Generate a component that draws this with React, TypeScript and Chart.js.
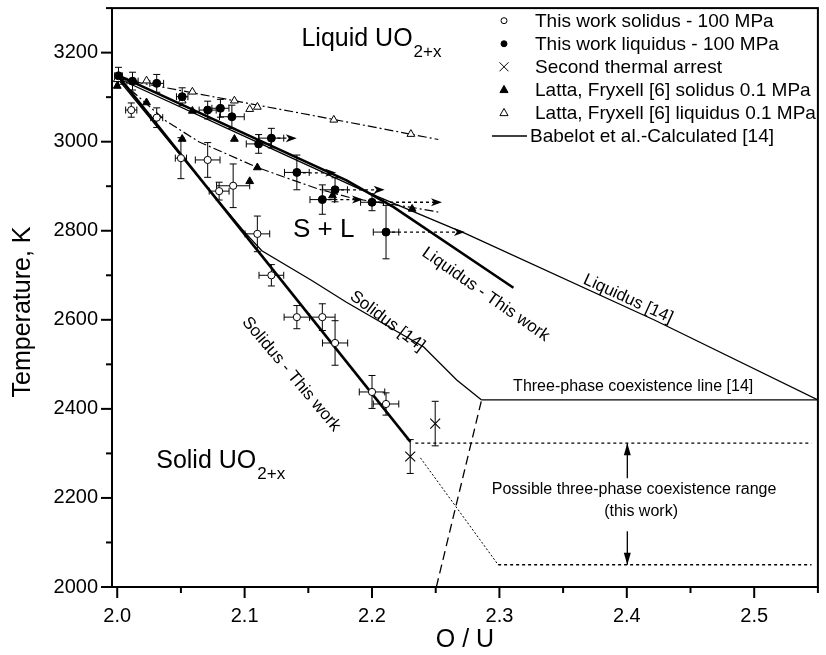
import React, { useEffect, useRef } from "react";
import { Chart, registerables } from "chart.js";

Chart.register(...registerables);

const FONT = "'Liberation Sans', Arial, Helvetica, sans-serif";

// ---------------- data ----------------
// [O/U, T(K), ±O/U, ±T]
const thisWorkSolidus: number[][] = [
  [2.011, 3071, 0.0044, 16],
  [2.031, 3054, 0.0047, 22],
  [2.05, 2963, 0.0044, 46],
  [2.071, 2959, 0.0097, 39],
  [2.08, 2889, 0.0078, 20],
  [2.091, 2901, 0.013, 49],
  [2.11, 2793, 0.0097, 40],
  [2.121, 2700, 0.0097, 24],
  [2.141, 2606, 0.01, 26],
  [2.161, 2606, 0.01, 30],
  [2.171, 2548, 0.0099, 50],
  [2.2, 2438, 0.01, 37],
  [2.211, 2411, 0.01, 25],
];

const thisWorkLiquidus: number[][] = [
  [2.001, 3148, 0.003, 19],
  [2.012, 3136, 0.0044, 20],
  [2.031, 3131, 0.0054, 20],
  [2.051, 3101, 0.0045, 20],
  [2.071, 3071, 0.0067, 20],
  [2.081, 3075, 0.0067, 20],
  [2.09, 3056, 0.0097, 26],
  [2.111, 2995, 0.0097, 21],
  [2.121, 3008, 0.0097, 22],
  [2.141, 2931, 0.0097, 39],
  [2.161, 2870, 0.0097, 33],
  [2.171, 2892, 0.0097, 27],
  [2.2, 2864, 0.009, 19],
  [2.211, 2797, 0.01, 60],
];

const secondArrest: number[][] = [
  [2.23, 2293, 0, 38],
  [2.2496, 2367, 0, 50],
];

const lattaSolidus: number[][] = [
  [2.0, 3125], [2.023, 3088], [2.051, 3006], [2.059, 3069], [2.092, 3006],
  [2.104, 2911], [2.11, 2942], [2.169, 2879], [2.2315, 2849],
];

const lattaLiquidus: number[][] = [
  [2.0, 3140], [2.023, 3137], [2.051, 3092], [2.059, 3112], [2.092, 3092],
  [2.104, 3073], [2.11, 3078], [2.17, 3049], [2.2305, 3017],
];

// curves
const babelotLiquidus: number[][] = [
  [2.0, 3143], [2.1, 3012], [2.19, 2894], [2.274, 2793], [2.422, 2599], [2.55, 2420],
];
const babelotSolidus: number[][] = [
  [2.0, 3143], [2.05, 2968], [2.1, 2797], [2.1135, 2755], [2.1524, 2689],
  [2.1796, 2640], [2.2406, 2539], [2.2665, 2465], [2.286, 2420],
];
const liquidusThisWork: number[][] = [
  [2.0, 3150], [2.1, 3018], [2.18, 2913], [2.217, 2853], [2.311, 2672],
];
const solidusThisWork: number[][] = [
  [2.0, 3150], [2.2302, 2326],
];
const lattaLiquidusCurve: number[][] = [
  [2.0, 3142], [2.09, 3093], [2.17, 3050], [2.252, 3005],
];
const lattaSolidusCurve: number[][] = [
  [2.0, 3140], [2.01, 3118], [2.038, 3047], [2.064, 3000], [2.11, 2942],
  [2.1575, 2894], [2.186, 2872], [2.23, 2853], [2.252, 2842],
];
const threePhaseLine: number[][] = [[2.286, 2420], [2.55, 2420]];
const dashedBoundary: number[][] = [[2.2505, 2000], [2.286, 2420]];
const rangeUpper: number[][] = [[2.234, 2323], [2.545, 2323]];
const rangeLower: number[][] = [[2.299, 2050], [2.545, 2050]];
const rangeDiagonal: number[][] = [[2.238, 2290], [2.299, 2050]];

// dotted arrows: [from O/U, to O/U, T]
const liquidusArrows: number[][] = [
  [2.121, 2.137, 3008],
  [2.141, 2.168, 2930],
  [2.161, 2.189, 2870],
  [2.171, 2.206, 2892],
  [2.2, 2.251, 2864],
  [2.211, 2.269, 2797],
];
// vertical arrows: [O/U, from T, to T]
const rangeArrows: number[][] = [
  [2.4004, 2244, 2323],
  [2.4004, 2125, 2050],
];

const yTickValues: number[] = [2000, 2200, 2400, 2600, 2800, 3000, 3200];
const xTickValues: number[] = [2.0, 2.1, 2.2, 2.3, 2.4, 2.5];

const legendLabels: string[] = [
  "This work solidus - 100 MPa",
  "This work liquidus - 100 MPa",
  "Second thermal arrest",
  "Latta, Fryxell [6] solidus 0.1 MPa",
  "Latta, Fryxell [6] liquidus 0.1 MPa",
  "Babelot et al.-Calculated [14]",
];

// ---------------- helpers ----------------
const pts = (a: number[][]) => a.map((p) => ({ x: p[0], y: p[1] }));

const arrowSegments = () => {
  const out: any[] = [];
  liquidusArrows.forEach((a) => {
    out.push({ x: a[0], y: a[2] });
    out.push({ x: a[1], y: a[2] });
    out.push({ x: a[1], y: null });
  });
  return out;
};
const verticalSegments = () => {
  const out: any[] = [];
  rangeArrows.forEach((a) => {
    out.push({ x: a[0], y: a[1] });
    out.push({ x: a[0], y: a[2] });
    out.push({ x: a[0], y: null });
  });
  return out;
};

function lineDs(data: any[], width: number, dash: number[] = []) {
  return {
    type: "scatter",
    data,
    showLine: true,
    borderColor: "#000",
    borderWidth: width,
    borderDash: dash,
    pointRadius: 0,
    pointHoverRadius: 0,
    fill: false,
    spanGaps: false,
    tension: 0,
    order: 10,
  };
}

function marker(ctx: CanvasRenderingContext2D, kind: string, x: number, y: number, r: number) {
  ctx.save();
  ctx.strokeStyle = "#000";
  ctx.fillStyle = "#000";
  ctx.lineWidth = 1;
  ctx.beginPath();
  if (kind === "circleOpen" || kind === "circle") {
    ctx.arc(x, y, r, 0, Math.PI * 2);
    if (kind === "circle") ctx.fill();
    else {
      ctx.fillStyle = "#fff";
      ctx.fill();
    }
    ctx.stroke();
  } else if (kind === "cross") {
    ctx.moveTo(x - r, y - r);
    ctx.lineTo(x + r, y + r);
    ctx.moveTo(x - r, y + r);
    ctx.lineTo(x + r, y - r);
    ctx.stroke();
  } else if (kind === "tri" || kind === "triOpen") {
    ctx.moveTo(x, y - r);
    ctx.lineTo(x + r * 0.9, y + r * 0.6);
    ctx.lineTo(x - r * 0.9, y + r * 0.6);
    ctx.closePath();
    if (kind === "tri") ctx.fill();
    else {
      ctx.fillStyle = "#fff";
      ctx.fill();
    }
    ctx.stroke();
  } else if (kind === "line") {
    ctx.lineWidth = 1.3;
    ctx.moveTo(x - 12, y);
    ctx.lineTo(x + 23, y);
    ctx.stroke();
  }
  ctx.restore();
}

const errorBarPlugin = {
  id: "errorBars",
  beforeDatasetsDraw(chart: any) {
    const { ctx } = chart;
    const xs = chart.scales.x;
    const ys = chart.scales.y;
    ctx.save();
    ctx.strokeStyle = "#000";
    ctx.lineWidth = 1;
    const cap = 3.5;
    chart.data.datasets.forEach((ds: any) => {
      if (!ds.errs) return;
      ds.errs.forEach((e: number[]) => {
        const px = xs.getPixelForValue(e[0]);
        const py = ys.getPixelForValue(e[1]);
        ctx.beginPath();
        if (e[3]) {
          const t = ys.getPixelForValue(e[1] + e[3]);
          const b = ys.getPixelForValue(e[1] - e[3]);
          ctx.moveTo(px, t); ctx.lineTo(px, b);
          ctx.moveTo(px - cap, t); ctx.lineTo(px + cap, t);
          ctx.moveTo(px - cap, b); ctx.lineTo(px + cap, b);
        }
        if (e[2]) {
          const l = xs.getPixelForValue(e[0] - e[2]);
          const r = xs.getPixelForValue(e[0] + e[2]);
          ctx.moveTo(l, py); ctx.lineTo(r, py);
          ctx.moveTo(l, py - cap); ctx.lineTo(l, py + cap);
          ctx.moveTo(r, py - cap); ctx.lineTo(r, py + cap);
        }
        ctx.stroke();
      });
    });
    ctx.restore();
  },
};

const decorPlugin = {
  id: "decor",
  afterDatasetsDraw(chart: any) {
    const { ctx } = chart;
    const xs = chart.scales.x;
    const ys = chart.scales.y;
    ctx.save();
    ctx.fillStyle = "#000";
    // right arrowheads
    liquidusArrows.forEach((a) => {
      const px = xs.getPixelForValue(a[1]);
      const py = ys.getPixelForValue(a[2]);
      ctx.beginPath();
      ctx.moveTo(px + 5, py);
      ctx.lineTo(px - 6, py - 4);
      ctx.lineTo(px - 3, py);
      ctx.lineTo(px - 6, py + 4);
      ctx.closePath();
      ctx.fill();
    });
    // vertical arrowheads
    rangeArrows.forEach((a) => {
      const px = xs.getPixelForValue(a[0]);
      const py = ys.getPixelForValue(a[2]);
      const dir = a[2] > a[1] ? 1 : -1;
      ctx.beginPath();
      ctx.moveTo(px, py);
      ctx.lineTo(px - 3.5, py + dir * 12);
      ctx.lineTo(px + 3.5, py + dir * 12);
      ctx.closePath();
      ctx.fill();
    });
    ctx.restore();
  },
  afterDraw(chart: any) {
    const { ctx, chartArea } = chart;
    const xs = chart.scales.x;
    const ys = chart.scales.y;
    const { left, right, top, bottom } = chartArea;
    ctx.save();
    // frame
    ctx.strokeStyle = "#000";
    ctx.lineWidth = 2;
    ctx.strokeRect(left, top, right - left, bottom - top);
    // ticks
    for (let t = 2000; t <= 3300; t += 100) {
      const py = ys.getPixelForValue(t);
      const len = t % 200 === 0 ? 11 : 6;
      ctx.beginPath();
      ctx.moveTo(left - len, py);
      ctx.lineTo(left, py);
      ctx.stroke();
    }
    for (let i = 0; i <= 11; i++) {
      const v = 2 + i * 0.05;
      const px = xs.getPixelForValue(v);
      const len = i % 2 === 0 ? 11 : 6;
      ctx.beginPath();
      ctx.moveTo(px, bottom);
      ctx.lineTo(px, bottom + len);
      ctx.stroke();
    }

    const P = (x: number, y: number) => [xs.getPixelForValue(x), ys.getPixelForValue(y)];
    ctx.fillStyle = "#000";

    // y axis title
    ctx.save();
    ctx.font = `25px ${FONT}`;
    ctx.textAlign = "center";
    ctx.textBaseline = "middle";
    ctx.translate(23, 312);
    ctx.rotate(-Math.PI / 2);
    ctx.fillText("Temperature, K", 0, 0);
    ctx.restore();

    // region labels with subscripts
    const region = [
      { t: "Liquid UO", s: "2+x", x: 2.1446, y: 3215 },
      { t: "Solid UO", s: "2+x", x: 2.0306, y: 2267 },
    ];
    region.forEach((r) => {
      const [px, py] = P(r.x, r.y);
      ctx.font = `25px ${FONT}`;
      ctx.textAlign = "left";
      ctx.textBaseline = "alphabetic";
      ctx.fillText(r.t, px, py);
      const w = ctx.measureText(r.t).width;
      ctx.font = `17px ${FONT}`;
      ctx.fillText(r.s, px + w + 1, py + 11);
    });
    {
      const [px, py] = P(2.138, 2786);
      ctx.font = `26px ${FONT}`;
      ctx.textAlign = "left";
      ctx.textBaseline = "alphabetic";
      ctx.fillText("S + L", px, py);
    }

    // rotated curve labels
    const rotated = [
      { t: "Liquidus - This work", x: 2.2892, y: 2657, a: 35 },
      { t: "Liquidus [14]", x: 2.401, y: 2647, a: 24.5 },
      { t: "Solidus [14]", x: 2.212, y: 2597, a: 37 },
      { t: "Solidus - This work", x: 2.1366, y: 2478, a: 50 },
    ];
    ctx.font = `17px ${FONT}`;
    rotated.forEach((r) => {
      const [px, py] = P(r.x, r.y);
      ctx.save();
      ctx.translate(px, py);
      ctx.rotate((r.a * Math.PI) / 180);
      ctx.textAlign = "center";
      ctx.textBaseline = "middle";
      ctx.fillText(r.t, 0, 0);
      ctx.restore();
    });

    // horizontal annotations
    const notes = [
      { t: "Three-phase coexistence line [14]", x: 2.405, y: 2451 },
      { t: "Possible three-phase coexistence range", x: 2.4057, y: 2218 },
      { t: "(this work)", x: 2.4112, y: 2169 },
    ];
    ctx.font = `16px ${FONT}`;
    ctx.textAlign = "center";
    ctx.textBaseline = "middle";
    notes.forEach((n) => {
      const [px, py] = P(n.x, n.y);
      ctx.fillText(n.t, px, py);
    });

    // legend
    const kinds = ["circleOpen", "circle", "cross", "tri", "triOpen", "line"];
    const sizes = [3, 3, 4.5, 4.5, 4.5, 0];
    ctx.font = `19px ${FONT}`;
    ctx.textAlign = "left";
    ctx.textBaseline = "middle";
    legendLabels.forEach((lab, i) => {
      const y = 20.7 + i * 23.06;
      marker(ctx, kinds[i], 504, y, sizes[i]);
      ctx.fillStyle = "#000";
      ctx.fillText(lab, kinds[i] === "line" ? 530 : 535, y + 1);
    });
    ctx.restore();
  },
};

export default function App() {
  const ref = useRef<HTMLCanvasElement | null>(null);
  useEffect(() => {
    if (!ref.current) return;
    Chart.defaults.font.family = FONT;
    Chart.defaults.color = "#000";
    const chart = new Chart(ref.current, {
      type: "scatter",
      data: {
        datasets: [
          lineDs(pts(babelotLiquidus), 1.3),
          lineDs(pts(babelotSolidus), 1.3),
          lineDs(pts(liquidusThisWork), 2.6),
          lineDs(pts(solidusThisWork), 2.6),
          lineDs(pts(lattaLiquidusCurve), 1.2, [9, 3, 2, 3]),
          lineDs(pts(lattaSolidusCurve), 1.2, [9, 3, 2, 3]),
          lineDs(pts(threePhaseLine), 1.3),
          lineDs(pts(dashedBoundary), 1.3, [9, 5]),
          lineDs(pts(rangeUpper), 1.3, [3, 3]),
          lineDs(pts(rangeLower), 1.3, [3, 3]),
          lineDs(pts(rangeDiagonal), 1, [2, 2]),
          lineDs(arrowSegments(), 1.3, [3, 3]),
          lineDs(verticalSegments(), 1.3),
          {
            type: "scatter",
            data: pts(lattaLiquidus),
            pointStyle: "triangle",
            pointRadius: 4.5,
            backgroundColor: "#fff",
            borderColor: "#000",
            borderWidth: 1,
            order: 2,
          },
          {
            type: "scatter",
            data: pts(lattaSolidus),
            pointStyle: "triangle",
            pointRadius: 4.5,
            backgroundColor: "#000",
            borderColor: "#000",
            borderWidth: 1,
            order: 2,
          },
          {
            type: "scatter",
            data: pts(thisWorkSolidus),
            errs: thisWorkSolidus,
            pointStyle: "circle",
            pointRadius: 3.6,
            backgroundColor: "#fff",
            borderColor: "#000",
            borderWidth: 1,
            order: 1,
          },
          {
            type: "scatter",
            data: pts(thisWorkLiquidus),
            errs: thisWorkLiquidus,
            pointStyle: "circle",
            pointRadius: 4,
            backgroundColor: "#000",
            borderColor: "#000",
            borderWidth: 1,
            order: 1,
          },
          {
            type: "scatter",
            data: pts(secondArrest),
            errs: secondArrest,
            pointStyle: "crossRot",
            pointRadius: 7,
            backgroundColor: "#000",
            borderColor: "#000",
            borderWidth: 1.1,
            order: 1,
          },
        ] as any,
      },
      options: {
        animation: false,
        responsive: true,
        maintainAspectRatio: false,
        layout: { padding: { top: 7, right: 2, left: 0, bottom: 0 } },
        plugins: { legend: { display: false }, tooltip: { enabled: false } },
        events: [],
        scales: {
          x: {
            type: "linear",
            min: 1.9959,
            max: 2.55,
            afterFit: (s: any) => {
              s.height = 68;
              s.paddingLeft = 0;
              s.paddingRight = 0;
            },
            border: { display: false },
            grid: { display: true, drawOnChartArea: false, drawTicks: true, tickLength: 11, color: "rgba(0,0,0,0)" },
            afterBuildTicks: (s: any) => {
              s.ticks = xTickValues.map((v) => ({ value: v }));
            },
            ticks: {
              autoSkip: false,
              maxRotation: 0,
              padding: 6,
              color: "#000",
              font: { size: 20, family: FONT },
              callback: (v: any) => Number(v).toFixed(1),
            },
            title: { display: true, text: "O / U", color: "#000", font: { size: 25, family: FONT }, padding: 0 },
          },
          y: {
            type: "linear",
            min: 2000,
            max: 3300,
            afterFit: (s: any) => {
              s.width = 112;
              s.paddingTop = 0;
              s.paddingBottom = 0;
            },
            border: { display: false },
            grid: { display: true, drawOnChartArea: false, drawTicks: true, tickLength: 11, color: "rgba(0,0,0,0)" },
            afterBuildTicks: (s: any) => {
              s.ticks = yTickValues.map((v) => ({ value: v }));
            },
            ticks: {
              autoSkip: false,
              padding: 3,
              color: "#000",
              font: { size: 20, family: FONT },
              callback: (v: any) => String(v),
            },
            title: { display: false, text: "Temperature, K" },
          },
        },
      } as any,
      plugins: [errorBarPlugin, decorPlugin],
    });
    return () => chart.destroy();
  }, []);

  return (
    <div style={{ position: "fixed", left: 0, top: 0, width: 826, height: 655, background: "#fff" }}>
      <canvas ref={ref} />
    </div>
  );
}
